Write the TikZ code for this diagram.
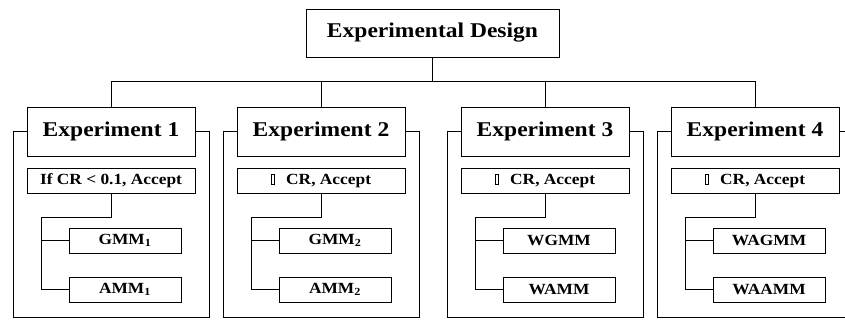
\documentclass[tikz,border=0pt]{standalone}
\usepackage{fontspec}
\setmainfont[FakeStretch=1.12]{Liberation Serif}
\usetikzlibrary{positioning, calc}

% empty glyph box as printed in the figure
\newcommand{\tofu}{{\fboxsep=0pt\fboxrule=1.1pt\fbox{\rule{2.2pt}{0pt}\rule{0pt}{9.5pt}}}}

\tikzset{
	box/.style={draw, line width=0.8pt, inner sep=0pt, font=\bfseries},
	titlebox/.style={box, minimum width=168pt, minimum height=49pt, font=\bfseries\fontsize{21}{25}\selectfont},
	rulebox/.style={box, minimum width=168pt, minimum height=25pt, font=\bfseries\fontsize{15.5}{18}\selectfont},
	methodbox/.style={box, minimum width=112pt, minimum height=25pt, font=\bfseries\fontsize{15.5}{18}\selectfont},
	link/.style={line width=0.8pt}
}

\begin{document}
\begin{tikzpicture}[x=1pt, y=-1pt]
	\useasboundingbox (0,0) rectangle (845,329);
	\clip (0,0) rectangle (845,329);
	\fill[white] (0,0) rectangle (845,329);

	\node[box, minimum width=253pt, minimum height=48pt, font=\bfseries\fontsize{21}{25}\selectfont] (design) at (432.5,33) {Experimental Design};

	\foreach \c/\i/\crtext/\ma/\mb in {111/1/{If CR < 0.1, Accept}/GMM\textsubscript{1}/AMM\textsubscript{1},
			321/2/{\tofu\hspace{0.7em}CR, Accept}/GMM\textsubscript{2}/AMM\textsubscript{2},
			545/3/{\tofu\hspace{0.7em}CR, Accept}/WGMM/WAMM,
			755/4/{\tofu\hspace{0.7em}CR, Accept}/WAGMM/WAAMM} {
		\node[titlebox] (exp\i) at (\c,131.5) {Experiment \i};
		\node[rulebox] (cr\i) at (\c,180.5) {\crtext};
		\node[methodbox] (ma\i) at (\c+14,240.5) {\ma};
		\node[methodbox] (mb\i) at (\c+14,289.5) {\mb};
		\coordinate (knee\i) at (\c-70,217);
		% outer frame of the experiment
		\draw[link] (exp\i.west) -| (\c-98,317) -| (\c+98,131.5) -- (exp\i.east);
		% branches to the methods
		\draw[link] (cr\i.south) |- (knee\i) |- (mb\i.west);
		\draw[link] (knee\i |- ma\i.west) -- (ma\i.west);
	}

	\draw[link] (design.south) -- (design.south |- 0,82);
	\draw[link] (exp1.north) -- ++(0,-25) -| (exp4.north);
	\draw[link] (exp2.north) -- ++(0,-25);
	\draw[link] (exp3.north) -- ++(0,-25);
\end{tikzpicture}
\end{document}
